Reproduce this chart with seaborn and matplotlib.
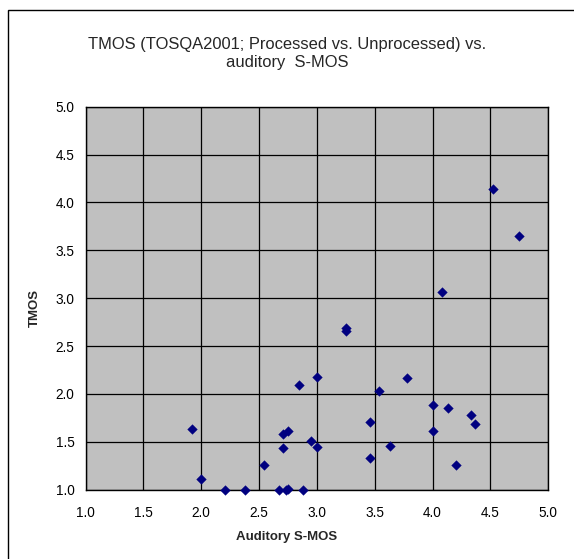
import matplotlib
matplotlib.use("Agg")
import matplotlib.pyplot as plt
import seaborn as sns
import pandas as pd
from matplotlib.patches import Rectangle
from matplotlib.ticker import FormatStrFormatter, MultipleLocator

# === DATA ===
auditory_smos = [1.92, 2.00, 2.21, 2.38, 2.54, 2.67, 2.73, 2.75, 2.88,
                 2.71, 2.71, 2.75, 2.85, 2.95, 3.00, 3.00, 3.25, 3.25,
                 3.46, 3.46, 3.54, 3.63, 3.78, 4.00, 4.00, 4.08, 4.13,
                 4.20, 4.33, 4.37, 4.52, 4.75]
tmos = [1.63, 1.11, 1.00, 1.00, 1.26, 1.00, 1.00, 1.01, 1.00,
        1.44, 1.58, 1.61, 2.09, 1.51, 1.45, 2.18, 2.69, 2.66,
        1.71, 1.33, 2.03, 1.46, 2.17, 1.88, 1.61, 3.06, 1.85,
        1.26, 1.78, 1.69, 4.14, 3.65]

df = pd.DataFrame({"Auditory S-MOS": auditory_smos, "TMOS": tmos})

# === STYLE ===
sns.set_style("white")
plt.rcParams["font.family"] = ["Liberation Sans", "DejaVu Sans"]

fig = plt.figure(figsize=(5.74, 5.59), dpi=100)
ax = fig.add_axes([0.149, 0.124, 0.806, 0.685])
ax.set_facecolor("#C0C0C0")

sns.scatterplot(data=df, x="Auditory S-MOS", y="TMOS", marker="D", s=24,
                color="#000080", edgecolor="#000080", linewidth=0.3,
                ax=ax, zorder=3, clip_on=False)

ax.set_xlim(1.0, 5.0)
ax.set_ylim(1.0, 5.0)
ax.xaxis.set_major_locator(MultipleLocator(0.5))
ax.yaxis.set_major_locator(MultipleLocator(0.5))
ax.xaxis.set_major_formatter(FormatStrFormatter("%.1f"))
ax.yaxis.set_major_formatter(FormatStrFormatter("%.1f"))
ax.grid(True, color="black", linewidth=0.9)
ax.set_axisbelow(True)
for sp in ax.spines.values():
    sp.set_color("black")
    sp.set_linewidth(1.0)
    sp.set_visible(True)
ax.tick_params(axis="both", direction="out", length=4, width=0.8,
               labelsize=9.8, colors="black", pad=4)
ax.tick_params(axis="x", pad=8)
ax.set_xlabel("")
ax.set_ylabel("")

# labels and title in figure coords
fig.text(0.5, 0.905, "TMOS (TOSQA2001; Processed vs. Unprocessed) vs.\nauditory  S-MOS",
         ha="center", va="center", fontsize=11.9, linespacing=1.25)
fig.text(0.5, 1 - 537 / 559, "Auditory S-MOS", ha="center", va="center",
         fontsize=9.5, fontweight="bold")
fig.text(35 / 574, 1 - 308 / 559, "TMOS", ha="center", va="center",
         rotation=90, fontsize=9.5, fontweight="bold")

# outer chart border
fig.patches.append(Rectangle((8 / 574, -0.1), 1.2, 1 - 10 / 559 + 0.1,
                             transform=fig.transFigure, fill=False,
                             edgecolor="black", linewidth=1.0))

fig.savefig("out.png", dpi=100)
